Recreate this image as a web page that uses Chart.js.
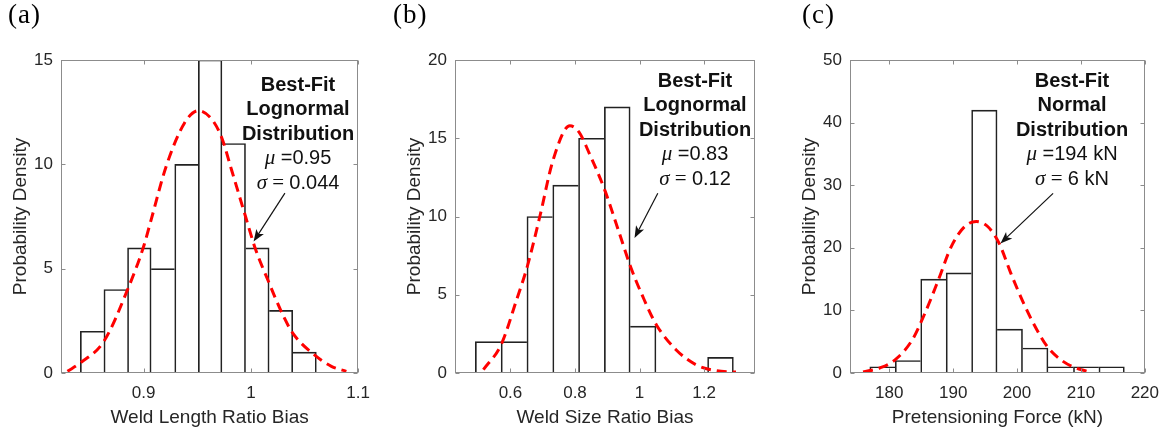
<!DOCTYPE html>
<html lang="en">
<head>
  <meta charset="UTF-8">
  <title>Best-Fit Distributions</title>
  <script src="https://cdn.jsdelivr.net/npm/chart.js"></script>
  <style>
    body { margin: 0; background: #fff; }
    .wrap { position: relative; width: 1169px; height: 436px; overflow: hidden; }
    .panel { position: absolute; top: 0; width: 380px; height: 436px; }
    .tag {
      position: absolute; top: 1px; line-height: 1;
      font-family: "Liberation Serif", "Times New Roman", serif;
      font-size: 27px; letter-spacing: 1px; color: #000;
    }
  </style>
</head>
<body>
  <div class="wrap">
    <div class="panel" style="left:0px"><canvas id="histA"></canvas></div>
    <div class="panel" style="left:394px"><canvas id="histB"></canvas></div>
    <div class="panel" style="left:789px"><canvas id="histC"></canvas></div>
    <div class="tag" style="left:8px">(a)</div>
    <div class="tag" style="left:393px">(b)</div>
    <div class="tag" style="left:802px">(c)</div>
  </div>

  <script>
    // (a) weld length ratio bias
    const edgesA = [0.841, 0.863, 0.885, 0.907, 0.929, 0.951, 0.973, 0.995, 1.017, 1.039, 1.061];
    const countsA = [2, 4, 6, 5, 10, 15, 11, 6, 3, 1];
    const fitXA = [0.829, 0.841, 0.863, 0.885, 0.900, 0.907, 0.921, 0.938, 0.951, 0.964, 0.973, 0.982, 0.995, 1.004, 1.017, 1.029, 1.039, 1.061, 1.075, 1.089];
    const fitYA = [0.08, 0.48, 1.52, 3.99, 6.06, 7.34, 9.9, 11.97, 12.57, 12.13, 11.25, 9.73, 7.5, 5.98, 4.31, 2.87, 1.91, 0.8, 0.32, 0.08];
    const xTicksA = [0.9, 1, 1.1];
    const xLabelsA = ['0.9', '1', '1.1'];
    const yTicksA = [0, 5, 10, 15];

    // (b) weld size ratio bias
    const edgesB = [0.491, 0.571, 0.651, 0.731, 0.811, 0.891, 0.971, 1.051, 1.131, 1.211, 1.291];
    const countsB = [2, 2, 10, 12, 15, 17, 3, 0, 0, 1];
    const fitXB = [0.516, 0.571, 0.619, 0.652, 0.691, 0.732, 0.784, 0.812, 0.845, 0.892, 0.938, 0.972, 1.010, 1.052, 1.113, 1.175, 1.237, 1.299];
    const fitYB = [0.21, 1.81, 4.68, 6.8, 10.0, 13.6, 15.8, 15.4, 14.0, 11.7, 8.9, 6.8, 4.89, 3.09, 1.49, 0.53, 0.15, 0.06];
    const xTicksB = [0.6, 0.8, 1, 1.2];
    const xLabelsB = ['0.6', '0.8', '1', '1.2'];
    const yTicksB = [0, 5, 10, 15, 20];

    // (c) pretensioning force
    const edgesC = [176.95, 180.93, 184.92, 188.9, 192.89, 196.87, 200.86, 204.84, 208.83, 212.81, 216.8];
    const countsC = [1, 2, 15, 16, 42, 7, 4, 1, 1, 1];
    const fitXC = [175.9, 178.5, 180.9, 183.6, 185.6, 187.7, 189.7, 191.8, 193.6, 195.4, 197.2, 199.0, 201.0, 203.1, 204.9, 207.2, 209.2, 211.0];
    const fitYC = [0.16, 0.8, 2.1, 5.3, 9.6, 14.9, 20.2, 23.4, 24.2, 23.4, 20.7, 16.0, 11.2, 6.9, 4.0, 1.86, 0.8, 0.27];
    const xTicksC = [180, 190, 200, 210, 220];
    const xLabelsC = ['180', '190', '200', '210', '220'];
    const yTicksC = [0, 10, 20, 30, 40, 50];

    const SANS = '"Liberation Sans", Arial, sans-serif';
    const SERIF = '"Liberation Serif", "Times New Roman", serif';
    const BOLD = 'bold 20px ' + SANS;
    const TEXT = '20px ' + SANS;
    const MATH = 'italic 21px ' + SERIF;
    const MATHUP = '21px ' + SERIF;
    const AXIS_GREY = '#262626';

    // draws one line made of runs in different fonts, centred on cx
    function drawRuns(ctx, runs, cx, cy) {
      let total = 0;
      runs.forEach(r => { ctx.font = r.font; r.w = ctx.measureText(r.text).width; total += r.w; });
      let x = cx - total / 2;
      runs.forEach(r => { ctx.font = r.font; ctx.fillText(r.text, x, cy); x += r.w; });
    }

    // axes box, inward ticks, fit note and arrow
    const framePlugin = {
      id: 'frame',
      afterDatasetsDraw(chart, args, opts) {
        const { ctx, chartArea: a, scales: { x, y } } = chart;
        const L = Math.round(a.left) + 0.5, R = Math.round(a.right) - 0.5;
        const T = Math.round(a.top) + 0.5, B = Math.round(a.bottom) - 0.5;
        ctx.save();
        ctx.strokeStyle = '#8c8c8c';
        ctx.lineWidth = 1;
        ctx.strokeRect(L, T, R - L, B - T);
        ctx.beginPath();
        x.ticks.forEach(t => {
          const px = Math.round(x.getPixelForValue(t.value)) + 0.5;
          ctx.moveTo(px, B); ctx.lineTo(px, B - 4);
          ctx.moveTo(px, T); ctx.lineTo(px, T + 4);
        });
        y.ticks.forEach(t => {
          const py = Math.round(y.getPixelForValue(t.value)) + 0.5;
          ctx.moveTo(L, py); ctx.lineTo(L + 4, py);
          ctx.moveTo(R, py); ctx.lineTo(R - 4, py);
        });
        ctx.stroke();

        // note text
        ctx.fillStyle = '#111';
        ctx.textBaseline = 'middle';
        ctx.textAlign = 'left';
        opts.lines.forEach((runs, i) => {
          drawRuns(ctx, runs, a.left + opts.cx, a.top + opts.cy + i * opts.step);
        });

        // arrow from the note to the fitted curve
        const tx = x.getPixelForValue(opts.arrow[0]), ty = y.getPixelForValue(opts.arrow[1]);
        const hx = x.getPixelForValue(opts.arrow[2]), hy = y.getPixelForValue(opts.arrow[3]);
        const ang = Math.atan2(hy - ty, hx - tx);
        const c = Math.cos(ang), s = Math.sin(ang);
        const len = 12, half = 4.5;
        ctx.strokeStyle = '#111';
        ctx.lineWidth = 1.2;
        ctx.beginPath();
        ctx.moveTo(tx, ty);
        ctx.lineTo(hx - c * 8, hy - s * 8);
        ctx.stroke();
        ctx.beginPath();
        ctx.moveTo(hx, hy);
        ctx.lineTo(hx - len * c + half * s, hy - len * s - half * c);
        ctx.lineTo(hx - len * 0.75 * c, hy - len * 0.75 * s);
        ctx.lineTo(hx - len * c - half * s, hy - len * s + half * c);
        ctx.closePath();
        ctx.fillStyle = '#111';
        ctx.fill();
        ctx.restore();
      }
    };

    function histPoints(edges, counts) {
      return counts.map((c, i) => ({ x: (edges[i] + edges[i + 1]) / 2, y: c }));
    }

    function makePanel(id, p) {
      new Chart(document.getElementById(id), {
        type: 'bar',
        data: {
          datasets: [{
            type: 'line',
            data: p.fitX.map((v, i) => ({ x: v, y: p.fitY[i] })),
            borderColor: '#ff0000',
            borderWidth: 3,
            borderDash: [10, 6],
            pointRadius: 0,
            cubicInterpolationMode: 'monotone',
            fill: false,
            order: 0
          }, {
            type: 'bar',
            data: histPoints(p.edges, p.counts),
            backgroundColor: 'rgba(0,0,0,0)',
            borderColor: '#222',
            // shared edges are drawn once, by the taller neighbour
            borderWidth: ctx => {
              const i = ctx.dataIndex, n = p.counts.length, c = p.counts[i];
              const prev = i > 0 ? p.counts[i - 1] : -1;
              const next = i < n - 1 ? p.counts[i + 1] : -1;
              return { top: 1, bottom: 0, left: c >= prev ? 1 : 0, right: c > next ? 1 : 0 };
            },
            categoryPercentage: 1,
            barPercentage: 1,
            order: 1
          }]
        },
        options: {
          responsive: true,
          maintainAspectRatio: false,
          animation: false,
          layout: { padding: { top: 60, right: 19, left: 0, bottom: 0 } },
          plugins: {
            legend: { display: false },
            tooltip: { enabled: false },
            frame: p.note
          },
          scales: {
            x: {
              type: 'linear',
              offset: false,
              min: p.xMin,
              max: p.xMax,
              grid: { display: false, drawTicks: false },
              border: { display: false },
              afterBuildTicks: s => { s.ticks = p.xTicks.map(v => ({ value: v })); },
              afterFit: s => { s.height = 63; },
              ticks: {
                padding: 10,
                maxRotation: 0,
                color: AXIS_GREY,
                font: { family: SANS, size: 17 },
                callback: (v, i) => p.xLabels[i]
              },
              title: {
                display: true,
                text: p.xTitle,
                color: AXIS_GREY,
                font: { family: SANS, size: 19 },
                padding: { top: 0, bottom: 7 }
              }
            },
            y: {
              min: 0,
              max: p.yTicks[p.yTicks.length - 1],
              grid: { display: false, drawTicks: false },
              border: { display: false },
              afterBuildTicks: s => { s.ticks = p.yTicks.map(v => ({ value: v })); },
              afterFit: s => { s.width = 61; },
              ticks: {
                padding: 8,
                color: AXIS_GREY,
                font: { family: SANS, size: 17 },
                callback: v => String(v)
              },
              title: {
                display: true,
                text: 'Probability Density',
                color: AXIS_GREY,
                font: { family: SANS, size: 19 },
                padding: { top: 9, bottom: 0 }
              }
            }
          }
        },
        plugins: [framePlugin]
      });
    }

    makePanel('histA', {
      edges: edgesA, counts: countsA, fitX: fitXA, fitY: fitYA,
      xMin: 0.823, xMax: 1.1, xTicks: xTicksA, xLabels: xLabelsA, yTicks: yTicksA,
      xTitle: 'Weld Length Ratio Bias',
      note: {
        cx: 237, cy: 25, step: 24.6,
        lines: [
          [{ text: 'Best-Fit', font: BOLD }],
          [{ text: 'Lognormal', font: BOLD }],
          [{ text: 'Distribution', font: BOLD }],
          [{ text: 'μ', font: MATH }, { text: ' =0.95', font: TEXT }],
          [{ text: 'σ', font: MATH }, { text: ' = ', font: MATHUP }, { text: '0.044', font: TEXT }]
        ],
        arrow: [1.0317, 8.62, 1.0025, 6.3]
      }
    });

    makePanel('histB', {
      edges: edgesB, counts: countsB, fitX: fitXB, fitY: fitYB,
      xMin: 0.428, xMax: 1.358, xTicks: xTicksB, xLabels: xLabelsB, yTicks: yTicksB,
      xTitle: 'Weld Size Ratio Bias',
      note: {
        cx: 240, cy: 21, step: 24.6,
        lines: [
          [{ text: 'Best-Fit', font: BOLD }],
          [{ text: 'Lognormal', font: BOLD }],
          [{ text: 'Distribution', font: BOLD }],
          [{ text: 'μ', font: MATH }, { text: ' =0.83', font: TEXT }],
          [{ text: 'σ', font: MATH }, { text: ' = ', font: MATHUP }, { text: '0.12', font: TEXT }]
        ],
        arrow: [1.0567, 11.49, 0.9845, 8.62]
      }
    });

    makePanel('histC', {
      edges: edgesC, counts: countsC, fitX: fitXC, fitY: fitYC,
      xMin: 173.85, xMax: 220, xTicks: xTicksC, xLabels: xLabelsC, yTicks: yTicksC,
      xTitle: 'Pretensioning Force (kN)',
      note: {
        cx: 222, cy: 21, step: 24.6,
        lines: [
          [{ text: 'Best-Fit', font: BOLD }],
          [{ text: 'Normal', font: BOLD }],
          [{ text: 'Distribution', font: BOLD }],
          [{ text: 'μ', font: MATH }, { text: ' =194 kN', font: TEXT }],
          [{ text: 'σ', font: MATH }, { text: ' = ', font: MATHUP }, { text: '6 kN', font: TEXT }]
        ],
        arrow: [205.64, 28.7, 197.4, 20.7]
      }
    });
  </script>
</body>
</html>
